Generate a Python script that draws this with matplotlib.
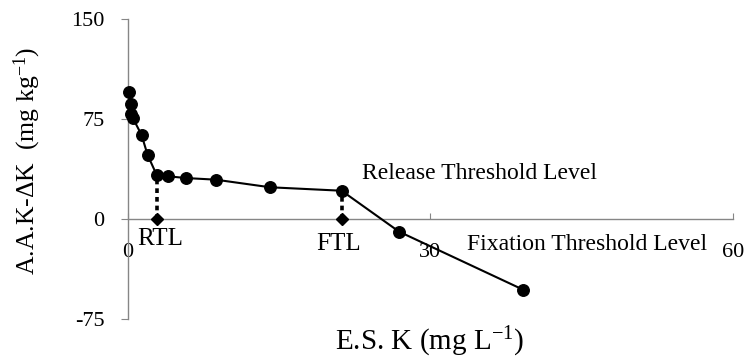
import matplotlib
matplotlib.use("Agg")
import matplotlib.pyplot as plt

plt.rcParams['font.family'] = ['Liberation Serif', 'DejaVu Serif']
plt.rcParams['mathtext.fontset'] = 'custom'
plt.rcParams['mathtext.rm'] = 'Liberation Serif'
plt.rcParams['mathtext.it'] = 'Liberation Serif:italic'
plt.rcParams['axes.unicode_minus'] = False

# Data
esk = [0.1, 0.3, 0.3, 0.5, 1.35, 1.95, 2.85, 4.0, 5.8, 8.7, 14.1, 21.2, 26.9, 39.2]
aak = [95, 86, 79, 75.5, 63, 48, 33, 32, 30.7, 29.5, 23.8, 21.2, -9.5, -53]
rtl_x, rtl_y = 2.85, 33
ftl_x, ftl_y = 21.2, 21.2
xticks = [0, 30, 60]
yticks = [-75, 0, 75, 150]

axis_col = '#868686'

fig = plt.figure(figsize=(7.47, 3.59), dpi=100)
ax = fig.add_axes([0.1713, 0.1114, 0.8096, 0.8357])
ax.set_xlim(0, 60)
ax.set_ylim(-75, 150)

ax.plot(esk, aak, color='black', lw=1.5, marker='o', ms=8.3, mfc='black', mec='black', zorder=3, clip_on=False)

# threshold drop lines and diamonds
ax.plot([rtl_x, rtl_x], [0, rtl_y], color='black', lw=2.6, linestyle=(0, (1.3, 1.1)), zorder=2)
ax.plot([ftl_x, ftl_x], [0, ftl_y], color='black', lw=2.6, linestyle=(0, (1.3, 1.1)), zorder=2)
ax.plot([rtl_x, ftl_x], [0, 0], linestyle='none', marker='D', ms=6, color='black', zorder=4)

ax.text(0.9, -19.5, 'RTL', fontsize=18, ha='left', va='baseline')
ax.text(18.7, -23, 'FTL', fontsize=18, ha='left', va='baseline')
ax.text(23.2, 29.8, 'Release Threshold Level', fontsize=17, ha='left', va='baseline')
ax.text(33.6, -23, 'Fixation Threshold Level', fontsize=17, ha='left', va='baseline')

for s in ['top', 'right']:
    ax.spines[s].set_visible(False)
ax.spines['bottom'].set_position(('data', 0))
ax.spines['left'].set_position(('data', 0))
for s in ['bottom', 'left']:
    ax.spines[s].set_color(axis_col)
    ax.spines[s].set_linewidth(1.0)

ax.set_xticks(xticks)
ax.set_yticks(yticks)
ax.set_xticklabels([str(v) for v in xticks])
ax.set_yticklabels([str(v) for v in yticks])
ax.tick_params(axis='x', direction='in', length=4, color=axis_col, labelsize=16, pad=17)
ax.tick_params(axis='y', direction='out', length=5, color=axis_col, labelsize=16, pad=12)

fig.text(430 / 747, 9 / 359, 'E.S. K (mg L$^{-1}$)', fontsize=21, ha='center', va='baseline')
fig.text(27 / 747, 1 - 161 / 359, 'A.A.K-\u0394K  (mg kg$^{-1}$)', fontsize=18.5,
         ha='center', va='center', rotation=90)

fig.savefig('out.png', dpi=100)
